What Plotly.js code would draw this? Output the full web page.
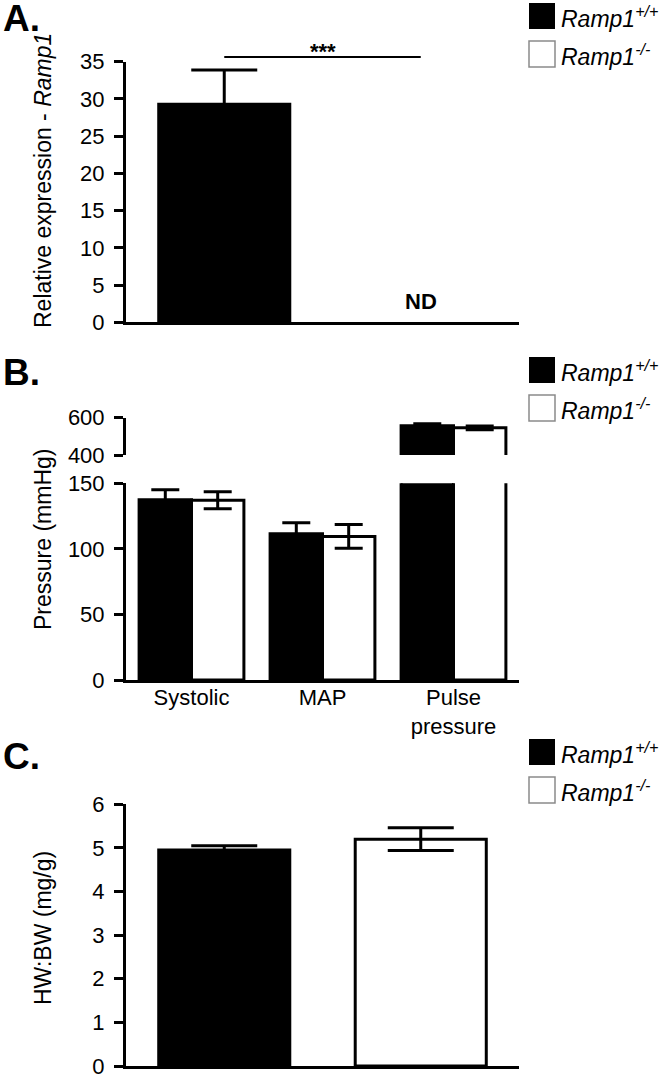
<!DOCTYPE html>
<html>
<head>
<meta charset="utf-8">
<script src="https://cdn.plot.ly/plotly-3.0.1.min.js"></script>
<style>
  html, body { margin: 0; padding: 0; background: #fff; }
  #chart { width: 662px; height: 1078px; }
</style>
</head>
<body>
<div id="chart"></div>
<script>
// panel A - relative expression
const genotypes = ["Ramp1+/+", "Ramp1-/-"];
const exprMean = [29.3, null];   // knockout: not detected
const exprErr = [4.6, null];

// panel B - blood pressure
const measures = ["Systolic", "MAP", "Pulse<br>pressure"];
const wtPressure = [137.5, 111.5, 557];
const wtPressureErr = [7.5, 8.5, 11];
const koPressure = [137, 109.5, 546];
const koPressureErr = [6.5, 9, 10];

// panel C - heart weight : body weight
const hwbwMean = [4.95, 5.2];
const hwbwErr = [0.1, 0.26];

const W = 662, H = 1078;
const fx = (p) => p / W;
const fy = (p) => 1 - p / H;
const FONT = "Liberation Sans, Arial, sans-serif";

const xDom = [fx(126), fx(519)];

const axisBase = {
  showline: true, linewidth: 3, linecolor: "black",
  showgrid: false, zeroline: false,
  tickfont: { family: FONT, size: 22, color: "black" },
  ticklabeloverflow: "allow",
};
const yBase = Object.assign({}, axisBase, {
  ticks: "outside", ticklen: 9, tickwidth: 3, tickcolor: "black",
  ticklabelstandoff: 5, fixedrange: true,
});

const genoColors = genotypes.map((g, i) => (i === 0 ? "black" : "white"));

function errBar(arr, w) {
  return { type: "data", array: arr, visible: true, color: "black", thickness: 3, width: w };
}

const traces = [
  {
    type: "bar", x: genotypes, y: exprMean, xaxis: "x", yaxis: "y",
    width: 0.667,
    marker: { color: genoColors, line: { color: "black", width: 3 } },
    error_y: errBar(exprErr, 33),
    showlegend: false, hoverinfo: "skip",
  },
];

// panel B: same data drawn on a lower (0-150) and upper (400-600) axis
["y2", "y3"].forEach((ya) => {
  traces.push({
    type: "bar", x: measures, y: wtPressure, xaxis: "x2", yaxis: ya,
    name: genotypes[0],
    marker: { color: "black", line: { color: "black", width: 3 } },
    error_y: errBar(wtPressureErr, 14),
    showlegend: false, hoverinfo: "skip",
  });
  traces.push({
    type: "bar", x: measures, y: koPressure, xaxis: "x2", yaxis: ya,
    name: genotypes[1],
    marker: { color: "white", line: { color: "black", width: 3 } },
    error_y: errBar(koPressureErr, 14),
    showlegend: false, hoverinfo: "skip",
  });
});

traces.push({
  type: "bar", x: genotypes, y: hwbwMean, xaxis: "x3", yaxis: "y4",
  width: 0.667,
  marker: { color: genoColors, line: { color: "black", width: 3 } },
  error_y: errBar(hwbwErr, 33),
  showlegend: false, hoverinfo: "skip",
});

const annotations = [];
const shapes = [];

// panel letters
[["A.", 18.5], ["B.", 372], ["C.", 756]].forEach(([t, y]) => {
  annotations.push({
    text: "<b>" + t + "</b>", xref: "paper", yref: "paper",
    x: fx(1), y: fy(y), xanchor: "left", yanchor: "middle",
    showarrow: false, font: { family: FONT, size: 37, color: "black" },
  });
});

// y titles
[["Relative expression - <i>Ramp1</i>", 181], ["Pressure (mmHg)", 540], ["HW:BW (mg/g)", 928]].forEach(([t, y]) => {
  annotations.push({
    text: t, xref: "paper", yref: "paper", x: fx(43), y: fy(y),
    xanchor: "center", yanchor: "middle", textangle: -90,
    showarrow: false, font: { family: FONT, size: 23, color: "black" },
  });
});

// legends, one per panel
[3, 357, 739].forEach((top) => {
  genotypes.forEach((g, i) => {
    const t = top + i * 38;
    shapes.push({
      type: "rect", xref: "paper", yref: "paper",
      x0: fx(529), x1: fx(555), y0: fy(t), y1: fy(t + 26),
      fillcolor: i === 0 ? "black" : "white",
      line: { color: i === 0 ? "black" : "#8a8a8a", width: i === 0 ? 0 : 1.5 },
    });
    annotations.push({
      text: "<i>Ramp1<sup>" + g.slice(5) + "</sup></i>",
      xref: "paper", yref: "paper", x: fx(559), y: fy(t + 14),
      xanchor: "left", yanchor: "middle", showarrow: false,
      font: { family: FONT, size: 23, color: "black" },
    });
  });
});

// significance bar + ND label in panel A
shapes.push({
  type: "line", xref: "x domain", yref: "paper",
  x0: 0.25, x1: 0.75, y0: fy(57), y1: fy(57),
  line: { color: "black", width: 2 },
});
annotations.push({
  text: "<b>***</b>", xref: "x domain", yref: "paper", x: 0.5, y: fy(52),
  xanchor: "center", yanchor: "middle", showarrow: false,
  font: { family: FONT, size: 22, color: "black" },
});
annotations.push({
  text: "<b>ND</b>", xref: "x", yref: "y", x: 1, y: 2.8,
  xanchor: "center", yanchor: "middle", showarrow: false,
  font: { family: FONT, size: 22, color: "black" },
});

const layout = {
  width: W, height: H,
  margin: { l: 0, r: 0, t: 0, b: 0 },
  paper_bgcolor: "white", plot_bgcolor: "white",
  font: { family: FONT, color: "black" },
  barmode: "group", bargap: 0.2, bargroupgap: 0,
  showlegend: false,
  xaxis: Object.assign({}, axisBase, {
    domain: xDom, anchor: "y", range: [-0.5, 1.5], showticklabels: false, ticks: "",
  }),
  yaxis: Object.assign({}, yBase, {
    domain: [fy(322.3), fy(61.7)], anchor: "x", range: [0, 35], dtick: 5,
  }),
  xaxis2: Object.assign({}, axisBase, {
    domain: xDom, anchor: "y2", range: [-0.5, 2.5], ticks: "", ticklabelstandoff: -4,
  }),
  yaxis2: Object.assign({}, yBase, {
    domain: [fy(680), fy(483.3)], anchor: "x2", range: [0, 150], dtick: 50,
  }),
  yaxis3: Object.assign({}, yBase, {
    domain: [fy(455), fy(417.7)], anchor: "x2", range: [400, 600], tickvals: [400, 600],
  }),
  xaxis3: Object.assign({}, axisBase, {
    domain: xDom, anchor: "y4", range: [-0.5, 1.5], showticklabels: false, ticks: "",
  }),
  yaxis4: Object.assign({}, yBase, {
    domain: [fy(1066), fy(804.3)], anchor: "x3", range: [0, 6], dtick: 1,
  }),
  shapes, annotations,
};

Plotly.newPlot("chart", traces, layout, { staticPlot: true });
</script>
</body>
</html>
